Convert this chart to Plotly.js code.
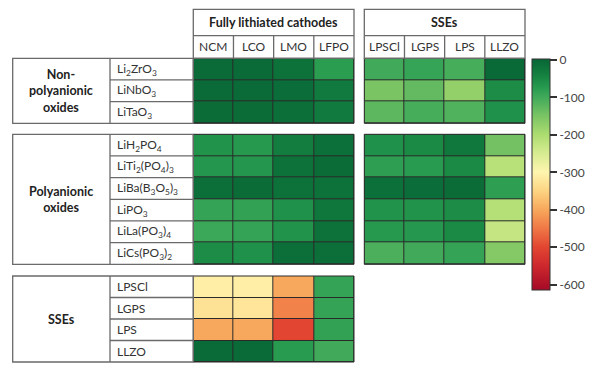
<!DOCTYPE html>
<html>
<head>
<meta charset="utf-8">
<script src="https://cdn.plot.ly/plotly-3.0.1.min.js"></script>
<style>html,body{margin:0;padding:0;background:#fff;}#chart{width:600px;height:373px;}</style>
</head>
<body>
<div id="chart"></div>
<script>
// ---------- DATA ----------
const cathodes = ["NCM", "LCO", "LMO", "LFPO"];
const sses = ["LPSCl", "LGPS", "LPS", "LLZO"];
const cathodeHeader = "Fully lithiated cathodes";
const sseHeader = "SSEs";

const group1Label = "Non-<br>polyanionic<br>oxides";
const group1Rows = ["Li<sub>2</sub>ZrO<sub>3</sub>", "LiNbO<sub>3</sub>", "LiTaO<sub>3</sub>"];
const group1Cathode = [
  [-6, -6, -18, -78],
  [-6, -6, -10, -30],
  [-8, -8, -12, -30]
];
const group1SSE = [
  [-100, -90, -105, -3],
  [-150, -130, -175, -55],
  [-125, -105, -115, -62]
];

const group2Label = "Polyanionic<br>oxides";
const group2Rows = ["LiH<sub>2</sub>PO<sub>4</sub>", "LiTi<sub>2</sub>(PO<sub>4</sub>)<sub>3</sub>", "LiBa(B<sub>3</sub>O<sub>5</sub>)<sub>3</sub>",
                    "LiPO<sub>3</sub>", "LiLa(PO<sub>3</sub>)<sub>4</sub>", "LiCs(PO<sub>3</sub>)<sub>2</sub>"];
const group2Cathode = [
  [-65, -72, -35, -15],
  [-68, -68, -18, -8],
  [-12, -8, -18, -18],
  [-88, -85, -62, -25],
  [-95, -88, -65, -18],
  [-55, -62, -12, -12]
];
const group2SSE = [
  [-62, -52, -28, -145],
  [-80, -75, -52, -215],
  [-15, -10, -8, -80],
  [-65, -65, -55, -210],
  [-72, -70, -52, -228],
  [-110, -100, -88, -160]
];

const group3Label = "SSEs";
const group3Rows = ["LPSCl", "LGPS", "LPS", "LLZO"];
const group3Cathode = [
  [-310, -310, -400, -88],
  [-330, -325, -440, -88],
  [-400, -400, -500, -85],
  [-5, -5, -75, -100]
];

const cbTickVals = [0, -100, -200, -300, -400, -500, -600];
const cbTickText = ["0", "-100", "-200", "-300", "-400", "-500", "-600"];

// ---------- STYLE ----------
const W = 600, H = 373;
const px = v => v / W;
const py = v => 1 - v / H;
const zmin = -615, zmax = 2;
const scaleStops = [
  [2, "rgb(8,102,54)"], [-25, "rgb(15,118,60)"], [-50, "rgb(25,136,68)"], [-75, "rgb(40,155,80)"],
  [-100, "rgb(64,170,90)"], [-150, "rgb(122,196,100)"], [-200, "rgb(172,220,112)"],
  [-250, "rgb(215,236,145)"], [-300, "rgb(254,245,175)"], [-350, "rgb(253,212,130)"],
  [-400, "rgb(247,168,92)"], [-450, "rgb(240,120,70)"], [-500, "rgb(226,70,50)"],
  [-550, "rgb(205,40,45)"], [-615, "rgb(165,10,38)"]
];
const colorscale = scaleStops.map(s => [(s[0] - zmin) / (zmax - zmin), s[1]]).sort((a, b) => a[0] - b[0]);

const FONT = "Lato, 'Open Sans', sans-serif";
const textCol = "#333";
const boxCol = "#6a6a6a";
const cellLine = "#2a2a2a";

const colC = [193.3, 354];
const colS = [364.3, 525];
const sec = [[58.3, 123.3], [134.3, 264.3], [276, 362]];
const leftBox = [12.7, 110, 193.3];

function dom(a, b) { return [px(a), px(b)]; }
function ydom(a, b) { return [py(b), py(a)]; }

const blocks = [
  {z: group1Cathode, cols: cathodes, rows: group1Rows, xd: colC, yd: sec[0]},
  {z: group1SSE, cols: sses, rows: group1Rows, xd: colS, yd: sec[0]},
  {z: group2Cathode, cols: cathodes, rows: group2Rows, xd: colC, yd: sec[1]},
  {z: group2SSE, cols: sses, rows: group2Rows, xd: colS, yd: sec[1]},
  {z: group3Cathode, cols: cathodes, rows: group3Rows, xd: colC, yd: sec[2]}
];

const data = [];
const layout = {
  width: W, height: H,
  margin: {l: 0, r: 0, t: 0, b: 0},
  paper_bgcolor: "#fff",
  plot_bgcolor: cellLine,
  showlegend: false,
  font: {family: FONT, color: textCol},
  shapes: [], annotations: []
};

blocks.forEach((b, i) => {
  const n = i === 0 ? "" : String(i + 1);
  const xa = "x" + n, ya = "y" + n;
  data.push({
    type: "heatmap",
    z: b.z,
    x: b.cols.map((c, k) => k),
    y: b.rows.map((r, k) => k),
    xaxis: xa, yaxis: ya,
    zmin: zmin, zmax: zmax,
    colorscale: colorscale,
    xgap: 1, ygap: 1,
    hoverinfo: "z",
    showscale: i === 0,
    colorbar: i === 0 ? {
      x: px(531.7), xanchor: "left", xpad: 0,
      y: py(59.3), yanchor: "top", ypad: 0,
      thickness: 18, thicknessmode: "pixels",
      len: 231, lenmode: "pixels",
      outlinewidth: 1, outlinecolor: "#333",
      tickmode: "array", tickvals: cbTickVals, ticktext: cbTickText,
      ticks: "outside", ticklen: 7, tickwidth: 2, tickcolor: "#333",
      tickfont: {family: FONT, size: 12, color: "#444"}
    } : undefined
  });
  layout["xaxis" + n] = {
    domain: dom(b.xd[0], b.xd[1]), anchor: ya,
    range: [-0.5, b.cols.length - 0.5],
    showticklabels: false, showgrid: false, zeroline: false, ticks: "",
    fixedrange: true
  };
  layout["yaxis" + n] = {
    domain: ydom(b.yd[0], b.yd[1]), anchor: xa,
    range: [b.rows.length - 0.5, -0.5],
    showticklabels: false, showgrid: false, zeroline: false, ticks: "",
    fixedrange: true
  };
  layout.shapes.push({type: "rect", xref: xa + " domain", yref: ya + " domain",
    x0: 0, x1: 1, y0: 0, y1: 1, line: {color: cellLine, width: 1}});
});

// column header boxes
function headerBox(xd, title, cols, xaxisName) {
  const top = 9.3, mid = 35.7, bot = 58.3;
  layout.shapes.push({type: "rect", xref: "paper", yref: "paper",
    x0: px(xd[0]), x1: px(xd[1]), y0: py(bot), y1: py(top),
    line: {color: boxCol, width: 1.3}});
  layout.shapes.push({type: "line", xref: "paper", yref: "paper",
    x0: px(xd[0]), x1: px(xd[1]), y0: py(mid), y1: py(mid),
    line: {color: boxCol, width: 1.3}});
  layout.annotations.push({xref: "paper", yref: "paper", x: px((xd[0] + xd[1]) / 2), y: py((top + mid) / 2),
    xanchor: "center", yanchor: "middle",
    text: "<b>" + title + "</b>", showarrow: false, font: {size: 12.5, color: "#222", family: FONT}});
  cols.forEach((c, k) => {
    layout.annotations.push({xref: xaxisName, yref: "paper", x: k, y: py((mid + bot) / 2),
      xanchor: "center", yanchor: "middle",
      text: c, showarrow: false, font: {size: 12, color: textCol, family: FONT}});
    if (k > 0) layout.shapes.push({type: "line", xref: xaxisName, yref: "paper",
      x0: k - 0.5, x1: k - 0.5, y0: py(bot), y1: py(mid), line: {color: boxCol, width: 1.3}});
  });
}
headerBox(colC, cathodeHeader, cathodes, "x");
headerBox(colS, sseHeader, sses, "x2");

// row label boxes
function rowBox(yd, label, rows, yaxisName) {
  layout.shapes.push({type: "rect", xref: "paper", yref: "paper",
    x0: px(leftBox[0]), x1: px(leftBox[2]), y0: py(yd[1]), y1: py(yd[0]),
    line: {color: boxCol, width: 1.3}});
  layout.shapes.push({type: "line", xref: "paper", yref: "paper",
    x0: px(leftBox[1]), x1: px(leftBox[1]), y0: py(yd[1]), y1: py(yd[0]),
    line: {color: boxCol, width: 1.3}});
  layout.annotations.push({xref: "paper", yref: "paper",
    x: px((leftBox[0] + leftBox[1]) / 2), y: py((yd[0] + yd[1]) / 2),
    xanchor: "center", yanchor: "middle",
    text: "<b>" + label.split("<br>").join("</b><br><b>") + "</b>", showarrow: false, align: "center",
    font: {size: 12.5, color: "#222", family: FONT}});
  rows.forEach((r, k) => {
    layout.annotations.push({xref: "paper", yref: yaxisName, x: px(leftBox[1] + 5), y: k,
      xanchor: "left", yanchor: "middle", text: r, showarrow: false,
      font: {size: 12, color: textCol, family: FONT}});
    if (k > 0) layout.shapes.push({type: "line", xref: "paper", yref: yaxisName,
      x0: px(leftBox[1]), x1: px(leftBox[2]), y0: k - 0.5, y1: k - 0.5, line: {color: boxCol, width: 1.3}});
  });
}
rowBox(sec[0], group1Label, group1Rows, "y");
rowBox(sec[1], group2Label, group2Rows, "y3");
rowBox(sec[2], group3Label, group3Rows, "y5");

Plotly.newPlot("chart", data, layout, {displayModeBar: false, staticPlot: true});
</script>
</body>
</html>
